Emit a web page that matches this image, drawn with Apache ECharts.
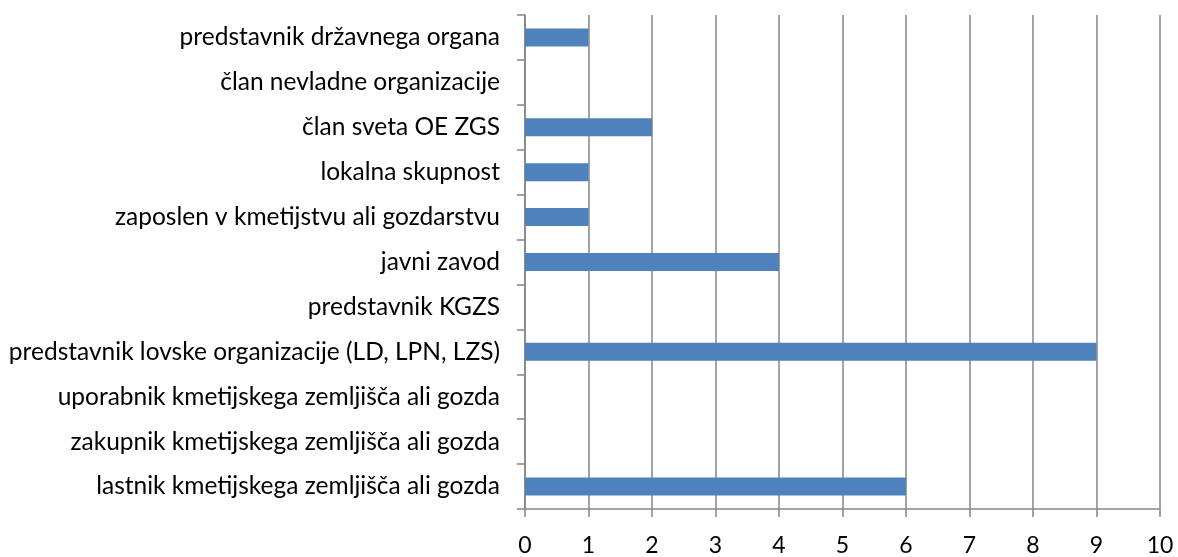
<!DOCTYPE html>
<html>
<head>
<meta charset="utf-8">
<script src="https://cdn.jsdelivr.net/npm/echarts@6/dist/echarts.min.js"></script>
<style>
  html, body { margin: 0; padding: 0; background: #fff; }
  #main { width: 1178px; height: 557px; }
</style>
</head>
<body>
<div id="main"></div>
<script>
// kategorije od spodaj navzgor
var categories = [
  'lastnik kmetijskega zemljišča ali gozda',
  'zakupnik kmetijskega zemljišča ali gozda',
  'uporabnik kmetijskega zemljišča ali gozda',
  'predstavnik lovske organizacije (LD, LPN, LZS)',
  'predstavnik KGZS',
  'javni zavod',
  'zaposlen v kmetijstvu ali gozdarstvu',
  'lokalna skupnost',
  'član sveta OE ZGS',
  'član nevladne organizacije',
  'predstavnik državnega organa'
];
var values = [6, 0, 0, 9, 0, 4, 1, 1, 2, 0, 1];

var myChart = echarts.init(document.getElementById('main'));
var option = {
  animation: false,
  textStyle: { fontFamily: 'Lato' },
  grid: { left: 525, right: 18, top: 15, bottom: 48, containLabel: false },
  xAxis: {
    type: 'value',
    min: 0,
    max: 10,
    interval: 1,
    axisLine: { show: true, lineStyle: { color: '#868686', width: 1.5 } },
    axisTick: { show: true, length: 8, lineStyle: { color: '#868686', width: 1.5 } },
    axisLabel: { color: '#000', fontSize: 23, margin: 25 },
    splitLine: { show: true, lineStyle: { color: '#868686', width: 1.5 } }
  },
  yAxis: {
    type: 'category',
    data: categories,
    axisLine: { show: true, lineStyle: { color: '#868686', width: 1.5 } },
    axisTick: { show: true, length: 8, alignWithLabel: false, lineStyle: { color: '#868686', width: 1.5 } },
    axisLabel: { color: '#000', fontSize: 24.5, margin: 25 },
    splitLine: { show: false }
  },
  series: [{
    type: 'bar',
    data: values,
    barWidth: 18,
    itemStyle: { color: '#4f81bd' }
  }]
};
myChart.setOption(option);
</script>
</body>
</html>
